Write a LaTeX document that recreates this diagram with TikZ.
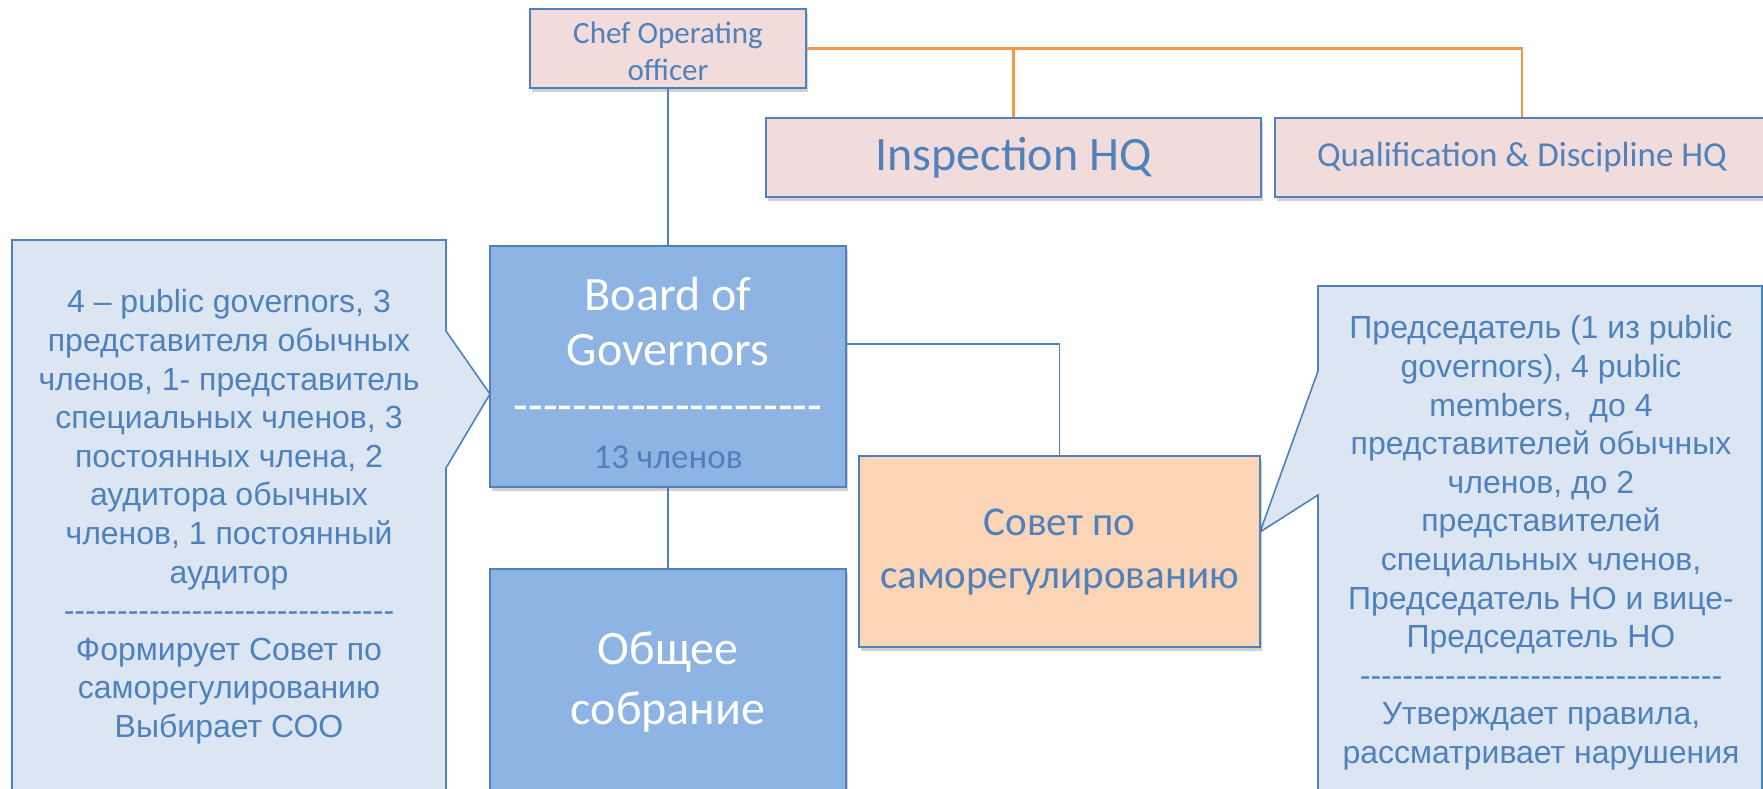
\documentclass[tikz,border=0pt]{standalone}
\usepackage{fontspec}
\setmainfont{Carlito}[Ligatures=TeXOff]
\newfontfamily\arialf{Liberation Sans}[Ligatures=TeXOff]
\usetikzlibrary{shadows}
\definecolor{bord}{HTML}{4F81BD}
\definecolor{pinkf}{HTML}{F2DCDB}
\definecolor{bluef}{HTML}{8EB4E3}
\definecolor{callf}{HTML}{DCE6F2}
\definecolor{peachf}{HTML}{FBD5B5}
\definecolor{orangel}{HTML}{F79646}
\definecolor{txtb}{HTML}{4F81BD}
\tikzset{
  boxshadow/.style={drop shadow={shadow xshift=2pt,shadow yshift=-4pt,opacity=0.18,fill=black}},
  pinkbox/.style={draw=bord,line width=2pt,fill=pinkf,boxshadow,inner sep=0pt,text=txtb,align=center},
  bluebox/.style={draw=bord,line width=2pt,fill=bluef,boxshadow,inner sep=0pt,align=center},
  peachbox/.style={draw=bord,line width=2pt,fill=peachf,boxshadow,inner sep=0pt,text=txtb,align=center},
  callshape/.style={draw=bord,line width=1.6pt,fill=callf},
  calltext/.style={text=txtb,align=center,inner sep=0pt,font=\arialf\fontsize{32}{38.6}\selectfont},
  blueline/.style={draw=bord,line width=1.8pt},
  orangeline/.style={draw=orangel,line width=2.2pt},
}
\begin{document}
\begin{tikzpicture}[x=1pt,y=-1pt]
\useasboundingbox (0,0) rectangle (1763,788);
\begin{scope}
\clip (0,0) rectangle (1763,788);
% callouts
\draw[callshape] (12,240) -- (446,240) -- (446,331) -- (490,394) -- (446,468) -- (446,800) -- (12,800) -- cycle;
\draw[callshape] (1318,286) -- (1762,286) -- (1762,800) -- (1318,800) -- (1318,495) -- (1260,532) -- (1318,371) -- cycle;
\node[calltext] (lefttext) at (229,517) {4 – public governors, 3\\представителя обычных\\членов, 1- представитель\\специальных членов, 3\\постоянных члена, 2\\аудитора обычных\\членов, 1 постоянный\\аудитор\\-------------------------------\\Формирует Совет по\\саморегулированию\\Выбирает СОО};
\node[calltext] (righttext) at (1541,543) {Председатель (1 из public\\governors), 4 public\\members,\ \ до 4\\представителей обычных\\членов, до 2\\представителей\\специальных членов,\\Председатель НО и вице-\\Председатель НО\\----------------------------------\\Утверждает правила,\\рассматривает нарушения};
% boxes
\node[pinkbox,minimum width=276pt,minimum height=79pt] (coo) at (668,48.5) {};
\node[text=txtb,align=center,inner sep=0pt,font=\fontsize{31}{37}\selectfont] (cootext) at (668,51) {Chef Operating\\officer};
\node[pinkbox,minimum width=495pt,minimum height=79pt,font=\fontsize{48}{54}\selectfont] (insp) at (1013.5,157.5) {Inspection HQ};
\node[pinkbox,minimum width=494pt,minimum height=79pt,font=\fontsize{35}{40}\selectfont] (qual) at (1522,157.5) {Qualification \& Discipline HQ};
\node[bluebox,minimum width=356pt,minimum height=241pt] (board) at (668,366.5) {};
\node[text=white,align=center,inner sep=0pt,font=\fontsize{48}{55}\selectfont] (boardname) at (668,322) {Board of\\Governors};
\node[text=white,inner sep=0pt,text height=14pt,text depth=0pt,font=\fontsize{48}{55}\selectfont] (boarddash) at (668,414) {---------------------};
\node[text=txtb,inner sep=0pt,font=\fontsize{35}{40}\selectfont] (boardnum) at (668,457) {13 членов};
\node[bluebox,text=white,minimum width=356pt,minimum height=226pt,font=\fontsize{48}{60}\selectfont] (obsh) at (668,682) {Общее\\собрание};
\node[peachbox,minimum width=401pt,minimum height=191pt,font=\fontsize{41}{53}\selectfont] (sovet) at (1059.5,551.5) {Совет по\\саморегулированию};
% connectors
\draw[blueline] (coo.south) -- (board.north);
\draw[blueline] (board.south) -- (obsh.north);
\draw[blueline] ([yshift=22.5pt]board.east) -| (sovet.north);
\draw[orangeline] (coo.east) -| (qual.north);
\draw[orangeline] (coo.east) -| (insp.north);
\end{scope}
\end{tikzpicture}
\end{document}
